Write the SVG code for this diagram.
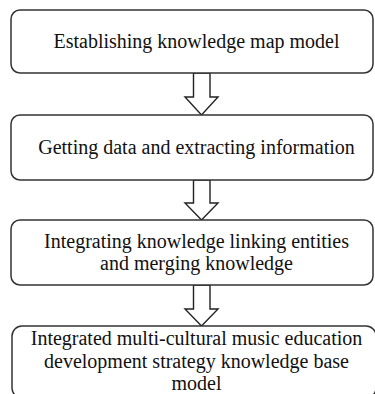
<svg xmlns="http://www.w3.org/2000/svg" width="375" height="394" viewBox="0 0 375 394">
<style>
.box{fill:#fff;stroke:#333;stroke-width:1.5}
.arr{fill:#fff;stroke:#222;stroke-width:1.4;stroke-linejoin:miter}
.t{font-family:'Liberation Serif','Times New Roman',Times,serif;font-size:20px;fill:#111;text-anchor:middle}
</style>
<rect width="375" height="394" fill="#fff"/>
<g id="connectors">
<path class="arr" d="M193.5,73 V97 H185 L201.5,115 L218,97 H210 V73 Z"/>
<path class="arr" d="M193.5,180 V203 H185 L201.5,220 L218,203 H210 V180 Z"/>
<path class="arr" d="M193.5,285 V309 H185 L201.5,326 L218,309 H210 V285 Z"/>
</g>
<g id="n1">
<rect class="box" x="11" y="10" width="362" height="63" rx="9"/>
<text class="t" x="196.5" y="48">Establishing knowledge map model</text>
</g>
<g id="n2">
<rect class="box" x="11" y="115" width="362" height="65" rx="9"/>
<text class="t" x="196.5" y="154">Getting data and extracting information</text>
</g>
<g id="n3">
<rect class="box" x="11" y="220" width="362" height="65" rx="9"/>
<text class="t" x="196.5" y="248">Integrating knowledge linking entities</text>
<text class="t" x="196.5" y="270">and merging knowledge</text>
</g>
<g id="n4">
<rect class="box" x="12" y="326" width="364" height="72" rx="10"/>
<text class="t" x="196.5" y="345">Integrated multi-cultural music education</text>
<text class="t" x="196.5" y="368">development strategy knowledge base</text>
<text class="t" x="196.5" y="390">model</text>
</g>
</svg>
